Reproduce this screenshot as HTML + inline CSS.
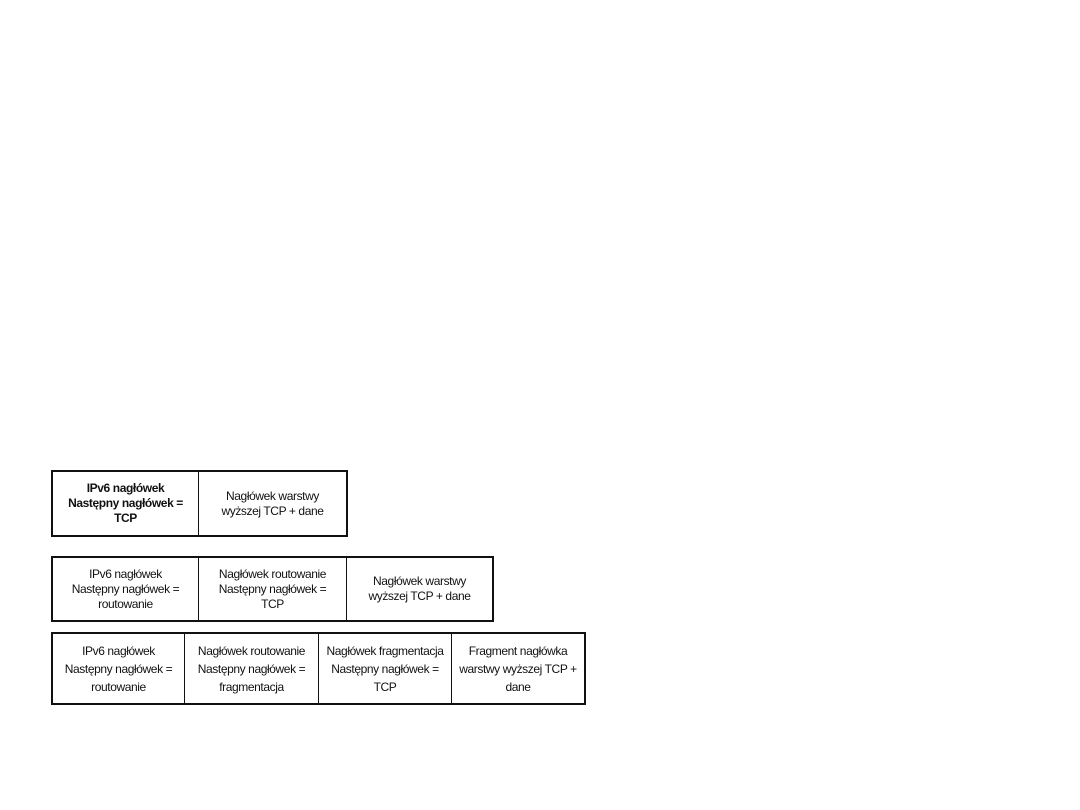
<!DOCTYPE html>
<html><head><meta charset="utf-8"><style>
body{margin:0;width:1080px;height:810px;background:#fff;position:relative;overflow:hidden;font-family:"Liberation Sans",Arial,sans-serif;}
.r{position:absolute;border:2px solid #111;box-sizing:border-box;display:flex;}
.c{box-sizing:border-box;border-left:1.5px solid #111;display:flex;align-items:center;justify-content:center;text-align:center;font-size:12px;line-height:15px;color:#111;letter-spacing:-0.4px;}
.c:first-child{border-left:none;}
.b{font-weight:bold;}
.r3 .c{line-height:18px;}
</style></head><body>
<div class="r" style="left:51px;top:470px;width:297px;height:67px;">
<div class="c b" style="width:145px">IPv6 nagłówek<br>Następny nagłówek =<br>TCP</div>
<div class="c" style="flex:1">Nagłówek warstwy<br>wyższej TCP + dane</div>
</div>
<div class="r" style="left:51px;top:556px;width:443px;height:66px;">
<div class="c" style="width:145px">IPv6 nagłówek<br>Następny nagłówek =<br>routowanie</div>
<div class="c" style="width:148px">Nagłówek routowanie<br>Następny nagłówek =<br>TCP</div>
<div class="c" style="flex:1">Nagłówek warstwy<br>wyższej TCP + dane</div>
</div>
<div class="r r3" style="left:51px;top:632px;width:535px;height:73px;">
<div class="c" style="width:131px">IPv6 nagłówek<br>Następny nagłówek =<br>routowanie</div>
<div class="c" style="width:134px">Nagłówek routowanie<br>Następny nagłówek =<br>fragmentacja</div>
<div class="c" style="width:133px">Nagłówek fragmentacja<br>Następny nagłówek =<br>TCP</div>
<div class="c" style="flex:1">Fragment nagłówka<br>warstwy wyższej TCP +<br>dane</div>
</div>
</body></html>
